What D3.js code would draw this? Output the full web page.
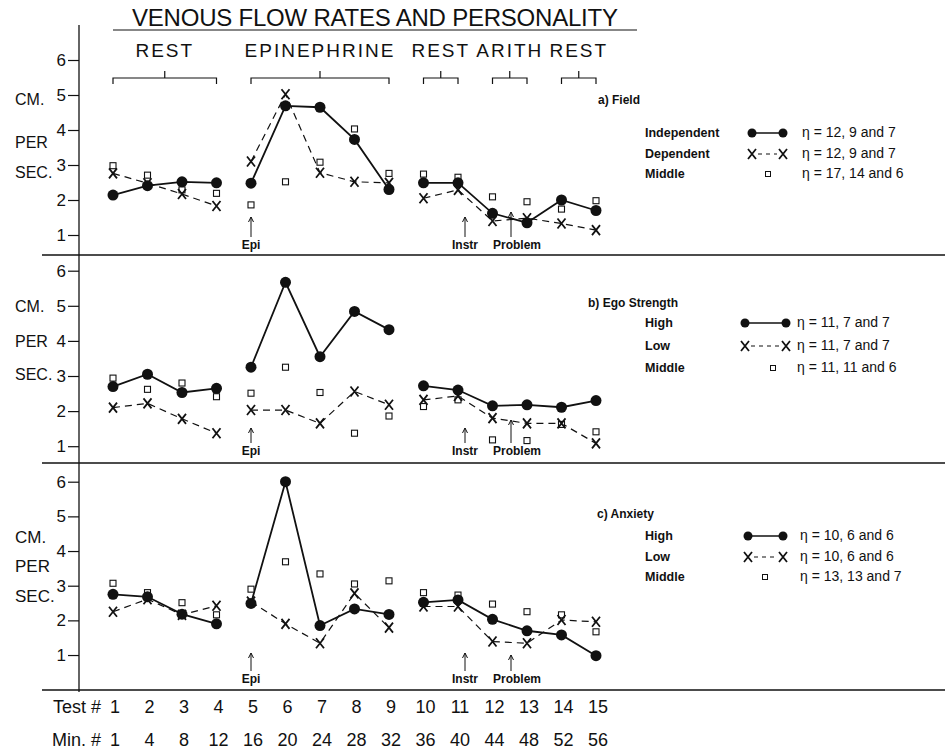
<!DOCTYPE html>
<html>
<head>
<meta charset="utf-8">
<script src="https://cdn.jsdelivr.net/npm/d3@7"></script>
<style>
  html, body { margin: 0; padding: 0; background: #fff; }
  svg text { font-family: "Liberation Sans", Arial, sans-serif; fill: #111; }
</style>
</head>
<body>
<svg id="chart" width="945" height="753"></svg>
<script>
// test numbers and minute labels along the bottom
const tests = [1, 2, 3, 4, 5, 6, 7, 8, 9, 10, 11, 12, 13, 14, 15];
const minutes = [1, 4, 8, 12, 16, 20, 24, 28, 32, 36, 40, 44, 48, 52, 56];
const yTicks = [1, 2, 3, 4, 5, 6];

// phases across the top: [label, first test, last test]
const phases = [
  ['REST', 1, 4], ['EPINEPHRINE', 5, 9], ['REST', 10, 11], ['ARITH', 12, 13], ['REST', 14, 15]
];
// connected runs of tests
const runs = [[1, 4], [5, 9], [10, 15]];

// a) Field
const fieldIndep = [2.14, 2.41, 2.52, 2.49, 2.48, 4.69, 4.65, 3.73, 2.30, 2.49, 2.49, 1.62, 1.35, 2.00, 1.70];
const fieldDep   = [2.76, 2.48, 2.17, 1.83, 3.10, 5.02, 2.78, 2.52, 2.49, 2.05, 2.29, 1.40, 1.48, 1.33, 1.14];
const fieldMid   = [2.98, 2.71, 2.29, 2.19, 1.86, 2.52, 3.08, 4.03, 2.76, 2.74, 2.65, 2.09, 1.95, 1.74, 1.98];
// b) Ego Strength
const egoHigh = [2.70, 3.05, 2.53, 2.65, 3.25, 5.67, 3.55, 4.84, 4.32, 2.72, 2.60, 2.15, 2.18, 2.11, 2.30];
const egoLow  = [2.10, 2.22, 1.78, 1.37, 2.03, 2.03, 1.65, 2.56, 2.18, 2.32, 2.43, 1.80, 1.65, 1.65, 1.08];
const egoMid  = [2.94, 2.62, 2.80, 2.41, 2.51, 3.25, 2.53, 1.37, 1.86, 2.13, 2.32, 1.18, 1.16, 1.62, 1.41];
// c) Anxiety
const anxHigh = [2.75, 2.68, 2.18, 1.90, 2.49, 6.00, 1.85, 2.33, 2.17, 2.52, 2.59, 2.03, 1.70, 1.58, 0.98];
const anxLow  = [2.25, 2.61, 2.16, 2.42, 2.54, 1.90, 1.34, 2.78, 1.79, 2.40, 2.40, 1.39, 1.34, 2.01, 1.96];
const anxMid  = [3.07, 2.80, 2.51, 2.16, 2.90, 3.69, 3.34, 3.05, 3.14, 2.80, 2.73, 2.47, 2.25, 2.16, 1.67];

const legendA = [['Independent', 'η = 12, 9 and 7'], ['Dependent', 'η = 12, 9 and 7'], ['Middle', 'η = 17, 14 and 6']];
const legendB = [['High', 'η = 11, 7 and 7'], ['Low', 'η = 11, 7 and 7'], ['Middle', 'η = 11, 11 and 6']];
const legendC = [['High', 'η = 10, 6 and 6'], ['Low', 'η = 10, 6 and 6'], ['Middle', 'η = 13, 13 and 7']];

const panels = [
  {title: 'a) Field', solid: fieldIndep, dashed: fieldDep, mid: fieldMid, legend: legendA,
   y0: 270, y6: 60, labY: [105, 148, 178], labSize: 16,
   lg: {tx: 598, ty: 104, lx: 645, rows: [137, 158, 178], sx1: 752, sx2: 783, sq: 768, ex: 802},
   notes: {base: 249, top: 217, probTop: 212}},
  {title: 'b) Ego Strength', solid: egoHigh, dashed: egoLow, mid: egoMid, legend: legendB,
   y0: 481.3, y6: 270.7, labY: [312, 347, 380], labSize: 16,
   lg: {tx: 588, ty: 307, lx: 645, rows: [327, 350, 372], sx1: 745, sx2: 786, sq: 773, ex: 797},
   notes: {base: 455, top: 428, probTop: 420}},
  {title: 'c) Anxiety', solid: anxHigh, dashed: anxLow, mid: anxMid, legend: legendC,
   y0: 689.7, y6: 481.7, labY: [543, 572, 602], labSize: 17,
   lg: {tx: 597, ty: 518, lx: 645, rows: [540, 561, 581], sx1: 748, sx2: 783, sq: 765, ex: 800},
   notes: {base: 683, top: 653, probTop: 655}}
];

const svg = d3.select('#chart');
const ink = '#111';
const x = d3.scaleLinear().domain([1, 15]).range([113, 596]);
const axisX = 79;

// title
svg.append('text')
  .attr('x', 132).attr('y', 26)
  .attr('textLength', 486).attr('lengthAdjust', 'spacing')
  .style('font-size', '24px')
  .text('VENOUS FLOW RATES AND PERSONALITY');
svg.append('line').attr('x1', 113).attr('x2', 637).attr('y1', 30).attr('y2', 30)
  .attr('stroke', ink).attr('stroke-width', 1.2);

// phase headers with brackets
phases.forEach(([name, a, b]) => {
  const x1 = x(a), x2 = x(b), cx = (x1 + x2) / 2;
  svg.append('text').attr('x', cx).attr('y', 57).attr('text-anchor', 'middle')
    .style('font-size', '19px').style('letter-spacing', '2px').text(name);
  svg.append('path')
    .attr('d', `M${x1},84V78H${x2}V84M${cx},78V71`)
    .attr('fill', 'none').attr('stroke', ink).attr('stroke-width', 1.2);
});

// frame lines
svg.append('line').attr('x1', axisX).attr('x2', axisX).attr('y1', 25).attr('y2', 692)
  .attr('stroke', ink).attr('stroke-width', 1.3);
[255, 463, 690].forEach(yy => {
  svg.append('line').attr('x1', 42).attr('x2', 945).attr('y1', yy).attr('y2', yy)
    .attr('stroke', ink).attr('stroke-width', 1.5);
});

const xMark = (g, cx, cy, s) => {
  g.append('path')
    .attr('d', `M${cx - s * 0.8},${cy - s}L${cx + s * 0.8},${cy + s}M${cx + s * 0.8},${cy - s}L${cx - s * 0.8},${cy + s}`)
    .attr('stroke', ink).attr('stroke-width', 1.8).attr('fill', 'none');
};

const arrow = (g, cx, top, bottom) => {
  g.append('path').attr('d', `M${cx},${bottom}V${top}`)
    .attr('stroke', ink).attr('stroke-width', 1);
  g.append('path').attr('d', `M${cx - 2.5},${top + 5}L${cx},${top}L${cx + 2.5},${top + 5}`)
    .attr('stroke', ink).attr('stroke-width', 1).attr('fill', 'none');
};

panels.forEach(p => {
  const y = d3.scaleLinear().domain([0, 6]).range([p.y0, p.y6]);
  const g = svg.append('g');

  // y axis ticks
  const ax = g.append('g').attr('transform', `translate(${axisX},0)`)
    .call(d3.axisLeft(y).tickValues(yTicks).tickSize(11).tickPadding(2).tickFormat(d3.format('d')));
  ax.select('.domain').remove();
  ax.selectAll('line').attr('stroke', ink).attr('stroke-width', 1.2);
  ax.selectAll('text').style('font-size', '17px').style('font-family', '"Liberation Sans", Arial, sans-serif').attr('fill', ink);

  // y label
  ['CM.', 'PER', 'SEC.'].forEach((t, i) => {
    g.append('text').attr('x', 15).attr('y', p.labY[i]).style('font-size', p.labSize + 'px').text(t);
  });

  const pts = arr => arr.map((v, i) => ({t: tests[i], v}));
  const line = d3.line().x(d => x(d.t)).y(d => y(d.v));

  runs.forEach(([a, b]) => {
    g.append('path').datum(pts(p.dashed).slice(a - 1, b)).attr('d', line)
      .attr('fill', 'none').attr('stroke', ink).attr('stroke-width', 1.2).attr('stroke-dasharray', '7,5');
    g.append('path').datum(pts(p.solid).slice(a - 1, b)).attr('d', line)
      .attr('fill', 'none').attr('stroke', ink).attr('stroke-width', 1.8);
  });

  pts(p.mid).forEach(d => {
    g.append('rect').attr('x', x(d.t) - 3).attr('y', y(d.v) - 3).attr('width', 6).attr('height', 6)
      .attr('fill', '#fff').attr('stroke', ink).attr('stroke-width', 1.1);
  });
  pts(p.dashed).forEach(d => xMark(g, x(d.t), y(d.v), 5));
  g.selectAll('circle.pt').data(pts(p.solid)).enter().append('circle').attr('class', 'pt')
    .attr('cx', d => x(d.t)).attr('cy', d => y(d.v)).attr('r', 5.5).attr('fill', ink);

  // event notes
  const n = p.notes;
  [['Epi', x(5), x(5), n.top], ['Instr', 465, 465, n.top], ['Problem', 517, 511, n.probTop]].forEach(([t, tx, axx, top]) => {
    arrow(g, axx, top, n.base - 12);
    g.append('text').attr('x', tx).attr('y', n.base).attr('text-anchor', 'middle')
      .style('font-size', '12px').style('font-weight', 'bold').text(t);
  });

  // legend
  const L = p.lg;
  g.append('text').attr('x', L.tx).attr('y', L.ty).style('font-size', '12px').style('font-weight', 'bold').text(p.title);
  p.legend.forEach(([lab, eta], i) => {
    const ry = L.rows[i];
    const sy = ry - 4;
    g.append('text').attr('x', L.lx).attr('y', ry).style('font-size', '12.5px').style('font-weight', 'bold').text(lab);
    g.append('text').attr('x', L.ex).attr('y', ry).style('font-size', '14px').text(eta);
    if (i === 0) {
      g.append('line').attr('x1', L.sx1).attr('x2', L.sx2).attr('y1', sy).attr('y2', sy)
        .attr('stroke', ink).attr('stroke-width', 1.5);
      [L.sx1, L.sx2].forEach(cx => g.append('circle').attr('cx', cx).attr('cy', sy).attr('r', 4.5).attr('fill', ink));
    } else if (i === 1) {
      g.append('line').attr('x1', L.sx1 + 6).attr('x2', L.sx2 - 6).attr('y1', sy).attr('y2', sy)
        .attr('stroke', ink).attr('stroke-width', 1.2).attr('stroke-dasharray', '4,4');
      xMark(g, L.sx1, sy, 5);
      xMark(g, L.sx2, sy, 5);
    } else {
      g.append('rect').attr('x', L.sq - 2.5).attr('y', sy - 2.5).attr('width', 5).attr('height', 5)
        .attr('fill', '#fff').attr('stroke', ink).attr('stroke-width', 1);
    }
  });
});

// bottom labels
svg.append('text').attr('x', 101).attr('y', 713).attr('text-anchor', 'end').style('font-size', '18px').text('Test #');
svg.append('text').attr('x', 101).attr('y', 746).attr('text-anchor', 'end').style('font-size', '18px').text('Min. #');
svg.selectAll('text.test').data(tests).enter().append('text').attr('class', 'test')
  .attr('x', d => x(d) + 2).attr('y', 713).attr('text-anchor', 'middle').style('font-size', '18px').text(d => d);
svg.selectAll('text.min').data(minutes).enter().append('text').attr('class', 'min')
  .attr('x', (d, i) => x(tests[i]) + 2).attr('y', 746).attr('text-anchor', 'middle').style('font-size', '18px').text(d => d);
</script>
</body>
</html>
